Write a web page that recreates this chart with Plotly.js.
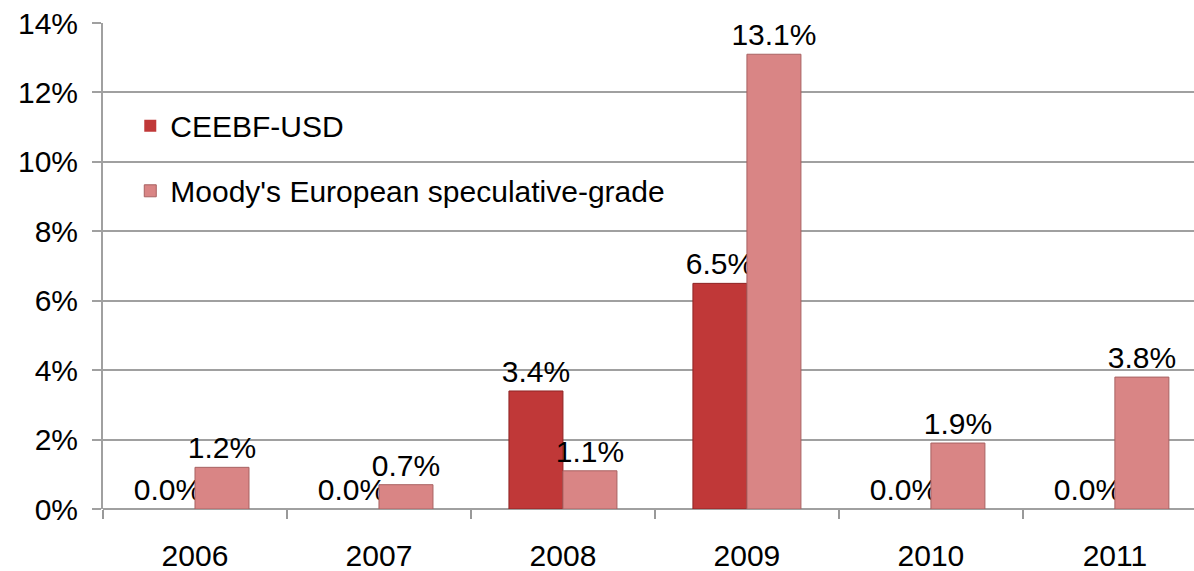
<!DOCTYPE html>
<html>
<head>
<meta charset="utf-8">
<script src="https://cdn.plot.ly/plotly-3.0.1.min.js"></script>
<style>html,body{margin:0;padding:0;background:#fff;}#chart{width:1194px;height:571px;}</style>
</head>
<body>
<div id="chart"></div>
<script>
const years = ['2006', '2007', '2008', '2009', '2010', '2011'];
const ceebf = [0.0, 0.0, 3.4, 6.5, 0.0, 0.0];
const moodys = [1.2, 0.7, 1.1, 13.1, 1.9, 3.8];
const seriesNames = ['CEEBF-USD', "Moody's European speculative-grade"];
const yTicks = [0, 2, 4, 6, 8, 10, 12, 14];

const fmt = v => v.toFixed(1) + '%';
const font = {family: 'Liberation Sans, Arial, sans-serif', size: 30, color: '#000'};

const traces = [
  {
    type: 'bar', name: seriesNames[0], x: years, y: ceebf,
    text: ceebf.map(fmt), textposition: 'outside', textfont: font,
    constraintext: 'none', cliponaxis: false, legendgroup: 'a',
    marker: {color: '#c03838', line: {color: '#8e2424', width: ceebf.map(v => v > 0 ? 1 : 0)}},
    hoverinfo: 'none'
  },
  {
    type: 'bar', name: seriesNames[1], x: years, y: moodys,
    text: moodys.map(fmt), textposition: 'outside', textfont: font,
    constraintext: 'none', cliponaxis: false, legendgroup: 'b',
    marker: {color: '#d98585', line: {color: '#a86262', width: 1}},
    hoverinfo: 'none'
  }
];

const layout = {
  width: 1194, height: 571,
  margin: {l: 103, r: 0, t: 23, b: 62},
  paper_bgcolor: '#fff', plot_bgcolor: '#fff',
  font: font,
  barmode: 'group', bargap: 0.413, bargroupgap: 0,
  showlegend: true,
  legend: {
    x: 0.025, y: 0.842, xanchor: 'left', yanchor: 'top',
    bgcolor: 'rgba(255,255,255,0)', font: font,
    traceorder: 'grouped', tracegroupgap: 23,
    itemwidth: 30
  },
  xaxis: {
    type: 'category', range: [-0.5, 5.43],
    tickson: 'boundaries', ticks: 'outside', ticklen: 9, tickcolor: '#999', tickwidth: 2,
    showline: false, showgrid: false, zeroline: false,
    tickfont: font, ticklabelstandoff: 26
  },
  yaxis: {
    range: [0, 14], tickvals: yTicks, ticktext: yTicks.map(v => v + '%'),
    showgrid: true, gridcolor: '#a0a0a0', gridwidth: 2,
    showline: true, linecolor: '#a0a0a0', linewidth: 2,
    ticks: 'outside', ticklen: 9, tickcolor: '#a0a0a0', tickwidth: 2,
    zeroline: true, zerolinecolor: '#a0a0a0', zerolinewidth: 2,
    tickfont: font, ticklabelstandoff: 8
  }
};

Plotly.newPlot('chart', traces, layout, {displayModeBar: false, staticPlot: true});
</script>
</body>
</html>
